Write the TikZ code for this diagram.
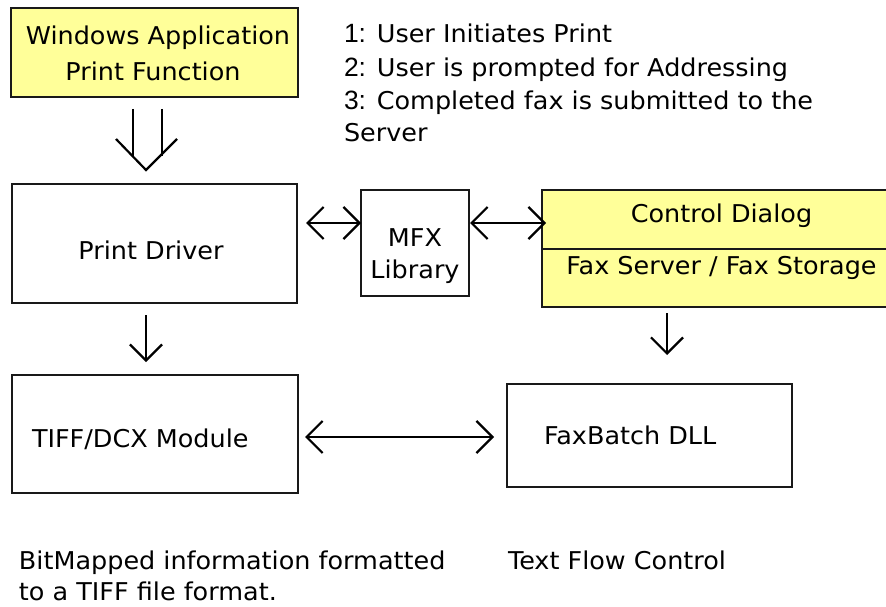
\documentclass[tikz,border=0pt]{standalone}
\usepackage{fontspec}
\setmainfont[FakeStretch=1.04]{DejaVu Sans}
\newfontfamily\digitfont[Scale=1.08]{Liberation Sans}
\usetikzlibrary{arrows.meta,calc}
\definecolor{boxyellow}{HTML}{FFFF99}
\begin{document}
\begin{tikzpicture}[x=1pt,y=-1pt,
  box/.style={draw=black!90,line width=2.5pt,inner sep=0pt,outer sep=0pt,rectangle},
  ybox/.style={box,fill=boxyellow},
  txt/.style={font=\fontsize{24.5}{30}\selectfont,inner sep=0pt,outer sep=0pt,anchor=base},
  ltxt/.style={txt,anchor=base west},
  dblarr/.style={line width=2.2pt,{Straight Barb[length=16pt,width=32pt]}-{Straight Barb[length=16pt,width=32pt]}},
  onearr/.style={line width=2.2pt,-{Straight Barb[length=16pt,width=32pt]}},
  shaft/.style={line width=2.2pt}
]
\useasboundingbox (0,0) rectangle (886,607);
\fill[white] (0,0) rectangle (886,607);
\clip (0,0) rectangle (886,607);

% boxes
\node[ybox,minimum width=287pt,minimum height=89pt] (wa) at (154.5,52.5) {};
\node[box,minimum width=285pt,minimum height=119pt] (pd) at (154.5,243.5) {};
\node[box,minimum width=108pt,minimum height=106pt] (mfx) at (415,243) {};
\node[ybox,minimum width=359pt,minimum height=117pt] (cd) at (721.5,248.5) {};
\node[box,minimum width=286pt,minimum height=118pt] (tiff) at (155,434) {};
\node[box,minimum width=285pt,minimum height=103pt] (fb) at (649.5,435.5) {};
\draw[line width=2.5pt,black!90] (cd.west |- 0,249) -- (cd.east |- 0,249);

% box texts
\node[txt] (wat1) at (158,45) {Windows Application};
\node[txt] (wat2) at (153,81) {Print Function};
\node[txt] (pdt) at (151,259) {Print Driver};
\node[txt] (mfxt1) at (415,246) {MFX};
\node[txt] (mfxt2) at (415,278) {Library};
\node[txt] (cdt1) at (721.5,222) {Control Dialog};
\node[txt] (cdt2) at (721.5,274) {Fax Server / Fax Storage};
\node[ltxt] (tifft) at (32,447) {TIFF/DCX Module};
\node[ltxt] (fbt) at (544,444) {FaxBatch DLL};

% notes
\node[ltxt] (n1) at (344,43) {{\digitfont 1:} User Initiates Print};
\node[ltxt] (n2) at (344,77) {{\digitfont 2:} User is prompted for Addressing};
\node[ltxt] (n3) at (344,110) {{\digitfont 3:} Completed fax is submitted to the};
\node[ltxt] (n4) at (344,142) {Server};
\node[ltxt] (b1) at (19,569) {BitMapped information formatted};
\node[ltxt] (b2) at (19,600) {to a TIFF file format.};
\node[ltxt] (b3) at (508,569) {Text Flow Control};

% double-shaft arrow from the application to the driver
\coordinate (s1a) at (133,109);
\coordinate (s1b) at (133,156.5);
\coordinate (s2a) at (162,109);
\coordinate (s2b) at (162,156.5);
\coordinate (vl) at (116,139);
\coordinate (vt) at (146,170);
\coordinate (vr) at (177,139);
\draw[shaft] (s1a) -- (s1b);
\draw[shaft] (s2a) -- (s2b);
\draw[shaft,line join=miter] (vl) -- (vt) -- (vr);

% connectors
\coordinate (ya) at (0,223);
\coordinate (yb) at (0,437);
\coordinate (xa) at (146,0);
\coordinate (xb) at (667,0);
\draw[dblarr,shorten <=9pt] (pd.east |- ya) -- (mfx.west |- ya);
\draw[dblarr,shorten <=1pt,shorten >=-4pt] (mfx.east |- ya) -- (cd.west |- ya);
\draw[onearr,shorten <=12pt,shorten >=13pt] (pd.south -| xa) -- (tiff.north -| xa);
\draw[onearr,shorten <=6pt,shorten >=29pt] (cd.south -| xb) -- (fb.north -| xb);
\draw[dblarr,shorten <=7pt,shorten >=13pt] (tiff.east |- yb) -- (fb.west |- yb);
\end{tikzpicture}
\end{document}
